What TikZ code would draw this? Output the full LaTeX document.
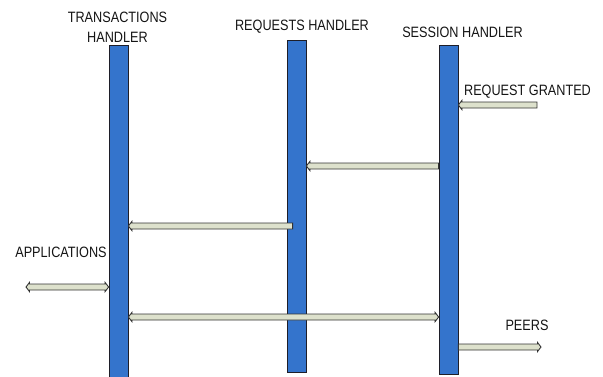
\documentclass[tikz,border=0pt]{standalone}
\usepackage{fontspec}
\setmainfont[FakeStretch=0.845]{Liberation Sans}
\usetikzlibrary{calc}
\definecolor{barblue}{RGB}{52,116,204}
\definecolor{baredge}{RGB}{30,30,40}
\definecolor{shaft}{RGB}{221,225,204}
\definecolor{shaftedge}{RGB}{50,50,50}
\tikzset{
  lifeline/.style={rectangle, fill=barblue, draw=baredge, line width=0.8pt,
    minimum width=19pt, inner sep=0pt, anchor=north},
  caption/.style={font=\fontsize{15}{16}\selectfont, text=black!92,
    inner sep=0pt, anchor=base, align=center},
  % block arrow with one head at the target end
  onehead/.style={fill=shaft, draw=shaftedge, line width=0.9pt, to path={
    let \p1=(\tikztostart), \p2=(\tikztotarget),
        \n1={ifthenelse(\x2>\x1,1,-1)} in
    (\x1,{\y1+3pt}) -- ({\x2-\n1*3.5pt},{\y1+3pt}) -- ({\x2-\n1*3.5pt},{\y1+4.6pt})
    -- (\x2,\y1) -- ({\x2-\n1*3.5pt},{\y1-4.6pt}) -- ({\x2-\n1*3.5pt},{\y1-3pt})
    -- (\x1,{\y1-3pt}) -- cycle}},
  % block arrow with heads at both ends
  twohead/.style={fill=shaft, draw=shaftedge, line width=0.9pt, to path={
    let \p1=(\tikztostart), \p2=(\tikztotarget),
        \n1={ifthenelse(\x2>\x1,1,-1)} in
    (\x1,\y1) -- ({\x1+\n1*3.5pt},{\y1+4.6pt}) -- ({\x1+\n1*3.5pt},{\y1+3pt})
    -- ({\x2-\n1*3.5pt},{\y1+3pt}) -- ({\x2-\n1*3.5pt},{\y1+4.6pt})
    -- (\x2,\y1) -- ({\x2-\n1*3.5pt},{\y1-4.6pt}) -- ({\x2-\n1*3.5pt},{\y1-3pt})
    -- ({\x1+\n1*3.5pt},{\y1-3pt}) -- ({\x1+\n1*3.5pt},{\y1-4.6pt}) -- cycle}},
}
\begin{document}
\begin{tikzpicture}[x=1pt, y=-1pt]
\useasboundingbox (0,0) rectangle (603,376);

% lifelines
\node[lifeline, minimum height=333pt] (tx) at (118.5,45) {};
\node[lifeline, minimum height=332pt] (rq) at (296.5,40) {};
\node[lifeline, minimum height=329pt] (ss) at (448.5,45) {};

% lifeline titles
\node[caption] (txt) at (117.5,22) {TRANSACTIONS};
\node[caption] (txh) at (117.5,42) {HANDLER};
\node[caption] (rqt) at (302,30) {REQUESTS HANDLER};
\node[caption] (sst) at (462.5,37) {SESSION HANDLER};

% message levels and free ends
\coordinate (grant) at (537,105);
\coordinate (lv1) at (0,166);
\coordinate (lv2) at (0,226);
\coordinate (appl) at (26,287);
\coordinate (lv3) at (0,317);
\coordinate (peers) at (541,347);

% messages
\draw[onehead] (grant) to (ss.east |- grant);
\draw[onehead] (ss.west |- lv1) to (rq.east |- lv1);
\draw[onehead] ([xshift=6pt]rq.west |- lv2) to (tx.east |- lv2);
\draw[twohead] (appl) to (tx.west |- appl);
\draw[twohead] (tx.east |- lv3) to (ss.west |- lv3);
\draw[onehead] (ss.east |- peers) to (peers);

% message labels
\node[caption] (grantl) at (527.5,95) {REQUEST GRANTED};
\node[caption] (appll) at (61,257) {APPLICATIONS};
\node[caption] (peersl) at (527,330) {PEERS};
\end{tikzpicture}
\end{document}
